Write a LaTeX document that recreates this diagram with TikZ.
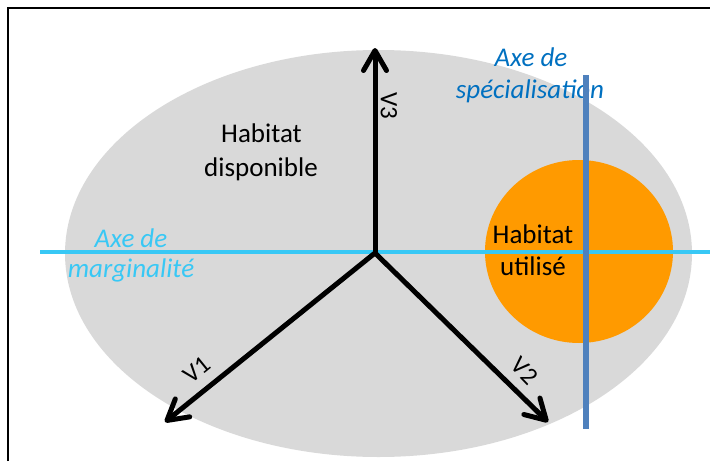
\documentclass[tikz,border=0pt]{standalone}
\usepackage{fontspec}
\setmainfont{Carlito}
\usetikzlibrary{arrows.meta}
\definecolor{grayfill}{RGB}{217,217,217}
\definecolor{orangefill}{RGB}{255,154,0}
\definecolor{cyanaxe}{RGB}{56,200,245}
\definecolor{blueaxe}{RGB}{79,129,189}
\definecolor{bluetext}{RGB}{0,112,192}
\tikzset{
  vec/.style={line width=5pt, line cap=round, line join=round,
    -{Straight Barb[length=20pt,width=23pt,line cap=round,line join=round]}},
  bigtext/.style={font=\fontsize{27}{33}\selectfont, inner sep=0pt, anchor=base},
  axetext/.style={bigtext, font=\fontsize{27}{33}\selectfont\itshape},
  vlabel/.style={font=\fontsize{25}{27}\selectfont, inner sep=0pt}
}
\begin{document}
\begin{tikzpicture}[x=1pt,y=-1pt]
\useasboundingbox (0,0) rectangle (710,461);
% frame
\coordinate (fbl) at (8.3,461);
\coordinate (ftl) at (8.3,8);
\coordinate (ftr) at (710,8);
\draw[line width=2.2pt] (fbl) -- (ftl) -- (ftr);
% available habitat
\fill[grayfill] (378.5,253.5) ellipse [x radius=313.5, y radius=203.5];
% used habitat
\fill[orangefill] (579,251.5) ellipse [x radius=94, y radius=91.5];
% marginality axis
\coordinate (mA) at (40,252);
\coordinate (mB) at (710,252);
\draw[cyanaxe, line width=4pt] (mA) -- (mB);
% vectors
\coordinate (o) at (375,253);
\coordinate (v1) at (165,422);
\coordinate (v2) at (548,422);
\coordinate (v3) at (375,48);
\draw[vec] (o) -- (v3);
\draw[vec] (o) -- (v1);
\draw[vec] (o) -- (v2);
\node[vlabel, rotate=-90] (l3) at (389,105.5) {V3};
\node[vlabel, rotate=39] (l1) at (197,370) {V1};
\node[vlabel, rotate=-46] (l2) at (525,371) {V2};
% texts
\node[bigtext] (hd1) at (261.5,142) {Habitat};
\node[bigtext] (hd2) at (261,176) {disponible};
\node[bigtext] (hu1) at (533,243) {Habitat};
\node[bigtext] (hu2) at (533,275) {utilisé};
\node[axetext, text=bluetext] (as1) at (531,66) {Axe de};
\node[axetext, text=bluetext] (as2) at (530,98) {spécialisation};
\node[axetext, text=cyanaxe] (am1) at (131,247) {Axe de};
\node[axetext, text=cyanaxe] (am2) at (131,277) {marginalité};
% specialisation axis
\coordinate (sA) at (586,75);
\coordinate (sB) at (586,429);
\draw[blueaxe, line width=5.5pt] (sA) -- (sB);
\end{tikzpicture}
\end{document}
